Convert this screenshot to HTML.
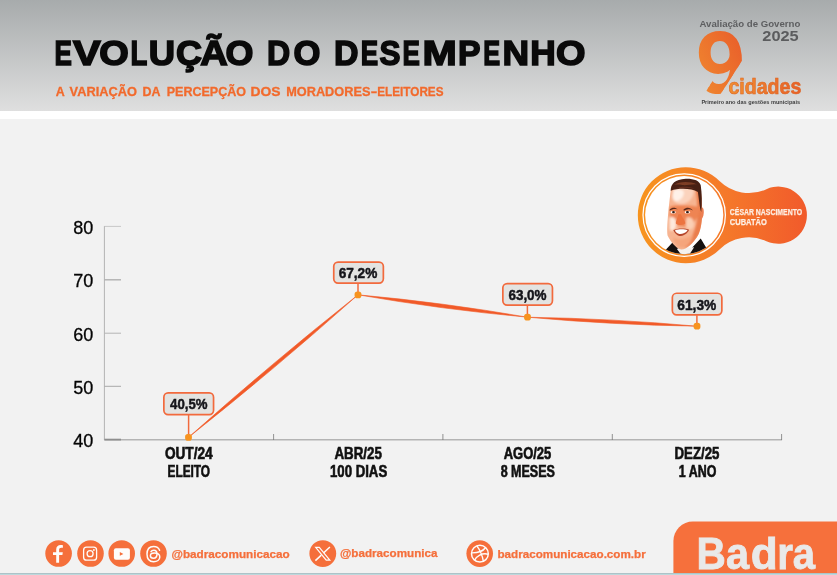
<!DOCTYPE html>
<html lang="pt-BR">
<head>
<meta charset="utf-8">
<title>Evolução do Desempenho</title>
<style>
html,body{margin:0;padding:0;background:#f2f2f2;}
body{width:837px;height:575px;overflow:hidden;font-family:"Liberation Sans",sans-serif;}
svg{display:block;}
text{font-family:"Liberation Sans",sans-serif;}
.b{font-weight:bold;}
</style>
</head>
<body>
<svg width="837" height="575" viewBox="0 0 837 575">
<defs>
<linearGradient id="hdr" x1="0" y1="0" x2="0" y2="1">
<stop offset="0" stop-color="#a7abac"/><stop offset="1" stop-color="#dfdfdf"/>
</linearGradient>
<linearGradient id="og" x1="0" y1="1" x2="1" y2="0">
<stop offset="0" stop-color="#f18f30"/><stop offset="1" stop-color="#e8572a"/>
</linearGradient>
<linearGradient id="og2" x1="0" y1="0" x2="1" y2="0">
<stop offset="0" stop-color="#f18f30"/><stop offset="1" stop-color="#e8602a"/>
</linearGradient>
<linearGradient id="badge" x1="0" y1="0" x2="1" y2="0">
<stop offset="0" stop-color="#f7941e"/><stop offset="0.5" stop-color="#f57a2a"/><stop offset="1" stop-color="#f15a2b"/>
</linearGradient>
</defs>

<!-- background -->
<rect x="0" y="0" width="837" height="575" fill="#f2f2f2"/>
<rect x="0" y="0" width="837" height="111" fill="url(#hdr)"/>
<rect x="0" y="111" width="837" height="8" fill="#ffffff"/>

<!-- header text -->
<g class="b" font-size="35.7" fill="#0a0a0a" stroke="#0a0a0a" stroke-width="1.6">
<text y="64.8"><tspan x="54.4" textLength="17.4" lengthAdjust="spacingAndGlyphs">E</tspan><tspan x="73.0" textLength="27.7" lengthAdjust="spacingAndGlyphs">V</tspan><tspan x="99.3" textLength="29.5" lengthAdjust="spacingAndGlyphs">O</tspan><tspan x="130.4" textLength="16.8" lengthAdjust="spacingAndGlyphs">L</tspan><tspan x="148.8" textLength="26.3" lengthAdjust="spacingAndGlyphs">U</tspan><tspan x="175.9" textLength="26.0" lengthAdjust="spacingAndGlyphs">Ç</tspan><tspan x="200.3" textLength="27.5" lengthAdjust="spacingAndGlyphs">Ã</tspan><tspan x="225.6" textLength="27.9" lengthAdjust="spacingAndGlyphs">O</tspan></text>
<text y="64.8"><tspan x="267.0" textLength="23.2" lengthAdjust="spacingAndGlyphs">D</tspan><tspan x="293.5" textLength="26.9" lengthAdjust="spacingAndGlyphs">O</tspan></text>
<text y="64.8"><tspan x="333.9" textLength="24.5" lengthAdjust="spacingAndGlyphs">D</tspan><tspan x="360.7" textLength="17.4" lengthAdjust="spacingAndGlyphs">E</tspan><tspan x="379.5" textLength="21.0" lengthAdjust="spacingAndGlyphs">S</tspan><tspan x="402.5" textLength="17.4" lengthAdjust="spacingAndGlyphs">E</tspan><tspan x="422.4" textLength="34.3" lengthAdjust="spacingAndGlyphs">M</tspan><tspan x="458.1" textLength="22.5" lengthAdjust="spacingAndGlyphs">P</tspan><tspan x="483.2" textLength="16.9" lengthAdjust="spacingAndGlyphs">E</tspan><tspan x="502.6" textLength="26.6" lengthAdjust="spacingAndGlyphs">N</tspan><tspan x="530.3" textLength="25.5" lengthAdjust="spacingAndGlyphs">H</tspan><tspan x="556.1" textLength="29.5" lengthAdjust="spacingAndGlyphs">O</tspan></text>
</g>
<g class="b" font-size="12.6" fill="#f26a2c" stroke="#f26a2c" stroke-width="0.3">
<text y="95.5"><tspan x="55.8" textLength="9.0" lengthAdjust="spacingAndGlyphs">A</tspan></text>
<text y="95.5"><tspan x="69.6" textLength="67.4" lengthAdjust="spacingAndGlyphs">VARIAÇÃO</tspan></text>
<text y="95.5"><tspan x="142.6" textLength="18.0" lengthAdjust="spacingAndGlyphs">DA</tspan></text>
<text y="95.5"><tspan x="166.7" textLength="79.4" lengthAdjust="spacingAndGlyphs">PERCEPÇÃO</tspan></text>
<text y="95.5"><tspan x="250.5" textLength="30.0" lengthAdjust="spacingAndGlyphs">DOS</tspan></text>
<text y="95.5"><tspan x="286.2" textLength="84.2" lengthAdjust="spacingAndGlyphs">MORADORES</tspan><tspan x="370.8" textLength="6.5" lengthAdjust="spacingAndGlyphs">-</tspan><tspan x="377.3" textLength="66.2" lengthAdjust="spacingAndGlyphs">ELEITORES</tspan></text>
</g>

<!-- logo -->
<g id="logo">
<text class="b" x="699.5" y="26.5" font-size="9.9" fill="#5d5e60" textLength="100.8" lengthAdjust="spacingAndGlyphs">Avaliação de Governo</text>
<text class="b" x="762.3" y="41.4" font-size="14.6" fill="#5b5c5e" textLength="36.4" lengthAdjust="spacingAndGlyphs">2025</text>
<clipPath id="c9"><path d="M690 20 H750 V52 L742.8 59.5 L720.6 94 H704.4 L716.4 75 H690Z"/></clipPath>
<text clip-path="url(#c9)" x="697" y="91.2" font-size="83.4" fill="url(#og)" stroke="url(#og)" stroke-width="4.2" stroke-linejoin="round" textLength="46.8" lengthAdjust="spacingAndGlyphs">9</text>
<text class="b" x="728.5" y="94" font-size="22.2" fill="url(#og2)" stroke="#dd6420" stroke-width="0.6" textLength="72.8" lengthAdjust="spacingAndGlyphs">cidades</text>
<text class="b" x="701.4" y="104.1" font-size="5.5" fill="#404041" textLength="98.7" lengthAdjust="spacingAndGlyphs">Primeiro ano das gestões municipais</text>
</g>

<!-- chart axes -->
<g id="axes" fill="none">
<line x1="104.4" y1="226.1" x2="104.4" y2="440" stroke="#b3b3b3" stroke-width="1"/>
<line x1="104.4" y1="439.8" x2="782" y2="439.8" stroke="#b4b4b4" stroke-width="1.5"/>
<line x1="104.4" y1="226.4" x2="121" y2="226.4" stroke="#bdbdbd" stroke-width="0.8"/>
<line x1="104.4" y1="279.8" x2="121" y2="279.8" stroke="#b0b0b0" stroke-width="1.4"/>
<line x1="104.4" y1="333.2" x2="121" y2="333.2" stroke="#b4b4b4" stroke-width="1"/>
<line x1="104.4" y1="386.3" x2="121" y2="386.3" stroke="#a8a8a8" stroke-width="1"/>
<line x1="104.4" y1="439.6" x2="121" y2="439.6" stroke="#8e8e8e" stroke-width="1.8"/>
<line x1="273.6" y1="434" x2="273.6" y2="440" stroke="#777" stroke-width="0.8"/>
<line x1="442.9" y1="434" x2="442.9" y2="440" stroke="#777" stroke-width="0.8"/>
<line x1="612.3" y1="434" x2="612.3" y2="440" stroke="#777" stroke-width="0.8"/>
<line x1="781.6" y1="434" x2="781.6" y2="440" stroke="#777" stroke-width="0.8"/>
</g>
<g id="ylabels" font-size="18" fill="#050505" stroke="#050505" stroke-width="0.3">
<text x="73.3" y="234.1">80</text>
<text x="73.3" y="287.3">70</text>
<text x="73.3" y="340.6">60</text>
<text x="73.3" y="393.8">50</text>
<text x="73.3" y="447.1">40</text>
</g>

<!-- series -->
<g id="series" fill="#f15a29" stroke="#f15a29" stroke-width="0.6" stroke-linejoin="round">
<path d="M188.6 437.3 Q275.4 368.6 358 294.8 Q271.2 363.5 188.6 437.3Z"/>
<path d="M358 294.8 Q442.3 309.5 527.5 317.2 Q443.2 302.5 358 294.8Z"/>
<path d="M527.5 317.2 Q612.1 324.9 697 326.2 Q612.4 318.5 527.5 317.2Z"/>
</g>
<g id="stems" stroke="#f26a3d" stroke-width="1.5">
<line x1="188.6" y1="415" x2="188.6" y2="435"/>
<line x1="358" y1="283.5" x2="358" y2="293"/>
<line x1="527.4" y1="305.5" x2="527.4" y2="315"/>
<line x1="696.9" y1="315.3" x2="696.9" y2="324"/>
</g>
<g id="dots" fill="#f7931f">
<rect x="185.1" y="433.9" width="6.8" height="6.8" rx="2.8"/>
<rect x="354.6" y="291.4" width="6.8" height="6.8" rx="2.8"/>
<rect x="524.1" y="313.8" width="6.8" height="6.8" rx="2.8"/>
<rect x="693.6" y="322.8" width="6.8" height="6.8" rx="2.8"/>
</g>
<g id="boxes" fill="#e3e3e1" stroke="#f26a3d" stroke-width="1.7">
<rect x="163.85" y="392.85" width="49.7" height="21.7" rx="4.3"/>
<rect x="333.75" y="262.05" width="49.6" height="21.1" rx="4.3"/>
<rect x="502.85" y="283.55" width="49.6" height="21.5" rx="4.3"/>
<rect x="672.35" y="293.25" width="49.5" height="21.6" rx="4.3"/>
</g>
<g id="vals" class="b" font-size="15.4" fill="#15151a" stroke="#15151a" stroke-width="0.5" text-anchor="middle">
<text x="188.8" y="409.1" textLength="37.4" lengthAdjust="spacingAndGlyphs">40,5%</text>
<text x="358" y="278" textLength="38.6" lengthAdjust="spacingAndGlyphs">67,2%</text>
<text x="527.5" y="299.9" textLength="38.2" lengthAdjust="spacingAndGlyphs">63,0%</text>
<text x="696.8" y="310" textLength="39" lengthAdjust="spacingAndGlyphs">61,3%</text>
</g>
<g id="xlabels" class="b" font-size="15.7" fill="#111" stroke="#111" stroke-width="0.6" text-anchor="middle">
<text x="188.8" y="458.8" textLength="47.8" lengthAdjust="spacingAndGlyphs">OUT/24</text>
<text x="188.8" y="476.6" textLength="42.6" lengthAdjust="spacingAndGlyphs">ELEITO</text>
<text x="358.2" y="458.8" textLength="47.5" lengthAdjust="spacingAndGlyphs">ABR/25</text>
<text x="358.6" y="476.6" textLength="57.2" lengthAdjust="spacingAndGlyphs">100 DIAS</text>
<text x="527.5" y="458.8" textLength="47.6" lengthAdjust="spacingAndGlyphs">AGO/25</text>
<text x="527.8" y="476.6" textLength="54.3" lengthAdjust="spacingAndGlyphs">8 MESES</text>
<text x="697" y="458.8" textLength="44.9" lengthAdjust="spacingAndGlyphs">DEZ/25</text>
<text x="697.6" y="476.6" textLength="37.5" lengthAdjust="spacingAndGlyphs">1 ANO</text>
</g>

<!-- badge -->
<g id="badge">
<path d="M719.5 181 A48 48 0 1 0 719.5 249.4 A42 42 0 0 1 766.4 241.2 A28.6 28.6 0 1 0 766.4 189.2 A42 42 0 0 1 719.5 181Z" fill="url(#badge)"/>
<circle cx="684.2" cy="215.1" r="41.2" fill="none" stroke="#fff" stroke-width="1.25"/>
<circle cx="684.2" cy="215.1" r="39.1" fill="#fff"/>
<clipPath id="pc"><circle cx="684.2" cy="215.1" r="39.1"/></clipPath>
<g clip-path="url(#pc)">
<g id="portrait" transform="translate(640 170) scale(0.1565)">
<filter id="bl" x="-20%" y="-20%" width="140%" height="140%"><feGaussianBlur stdDeviation="7"/></filter>
<!-- suit -->
<path d="M150 525 L218 452 L262 508 L322 508 L388 438 L428 505 L405 570 L160 570Z" fill="#17110f"/>
<path d="M236 505 L258 492 L322 496 L346 494 L312 545 L262 540Z" fill="#f4f1ee"/>
<!-- head -->
<path d="M201 100 C192 160 184 230 178 300 C174 350 172 395 176 418 C195 455 228 500 262 508 C300 510 345 462 372 415 C392 375 400 300 397 250 C394 180 390 130 382 95 C320 68 250 70 201 100Z" fill="#f7b491"/>
<clipPath id="hc"><path d="M201 100 C192 160 184 230 178 300 C174 350 172 395 176 418 C195 455 228 500 262 508 C300 510 345 462 372 415 C392 375 400 300 397 250 C394 180 390 130 382 95 C320 68 250 70 201 100Z"/></clipPath>
<g clip-path="url(#hc)">
<g filter="url(#bl)">
<!-- right side shading -->
<path d="M352 110 C365 160 368 230 366 300 C362 370 330 440 285 497 C315 495 358 452 386 402 C402 368 405 300 402 250 C399 180 395 130 388 100Z" fill="#ea7d4c"/>
<!-- mid face orange band -->
<path d="M190 235 C240 222 320 222 385 240 C380 300 340 350 300 360 C260 365 215 350 190 320Z" fill="#ee8452"/>
<!-- forehead highlight -->
<path d="M212 118 C250 100 305 104 345 125 C345 170 320 212 270 218 C230 220 203 198 203 168Z" fill="#fbd3bd"/>
<path d="M215 130 C240 118 270 120 280 140 C280 175 255 200 225 198 C208 190 206 160 215 130Z" fill="#fff1e8"/>
<!-- cheek highlights -->
<path d="M188 305 C212 292 236 312 232 352 C228 384 205 398 190 382Z" fill="#fee9dc"/>
<path d="M296 305 C330 292 352 322 342 362 C326 392 300 382 292 352Z" fill="#fbcfb4"/>
<!-- lower jaw -->
<path d="M210 430 C240 450 300 445 340 410 C330 470 290 500 262 496 C238 490 218 462 210 430Z" fill="#f5a57c"/>
</g>
</g>
<!-- ear -->
<path d="M388 240 C405 230 412 260 405 290 C400 310 392 318 386 312Z" fill="#ec7f52"/>
<!-- hair -->
<path d="M196 132 C198 88 222 60 292 56 C346 55 380 68 388 98 C396 150 397 215 391 268 C381 240 377 190 370 140 C330 116 250 112 196 132Z" fill="#482014"/>
<path d="M216 96 C250 72 320 70 364 92 C330 88 300 100 270 96 C250 92 232 92 216 96Z" fill="#7d3d24"/>
<path d="M230 118 C260 104 310 104 350 120 C310 112 270 112 230 118Z" fill="#6a3020"/>
<!-- brows/eyes -->
<path d="M190 252 C205 236 228 238 240 252 C225 247 205 249 190 260Z" fill="#5a2a1a"/>
<path d="M278 252 C298 236 322 238 338 258 C318 247 298 249 280 260Z" fill="#5a2a1a"/>
<ellipse cx="212" cy="270" rx="17" ry="8" fill="#fff"/>
<ellipse cx="303" cy="270" rx="18" ry="8" fill="#fff"/>
<ellipse cx="214" cy="269" rx="9" ry="7.5" fill="#2e1a14"/>
<ellipse cx="303" cy="269" rx="9.5" ry="7.5" fill="#2e1a14"/>
<!-- nose -->
<path d="M245 282 C240 310 226 330 230 343 C245 354 277 354 290 341 C287 320 268 300 262 282Z" fill="#ec7440"/>
<!-- mouth -->
<path d="M213 384 C240 370 290 370 314 381 C302 411 268 424 250 422 C232 417 219 400 213 384Z" fill="#b5472c"/>
<path d="M223 386 C245 377 285 377 304 385 C293 403 268 411 252 409 C238 405 228 396 223 386Z" fill="#ffffff"/>
</g>
</g>
<text class="b" x="729.8" y="214.8" font-size="8.6" fill="#fdeee2" stroke="#fdeee2" stroke-width="0.25" textLength="72.3" lengthAdjust="spacingAndGlyphs">CÉSAR NASCIMENTO</text>
<text class="b" x="729.8" y="225.3" font-size="8.6" fill="#fdeee2" stroke="#fdeee2" stroke-width="0.25" textLength="37" lengthAdjust="spacingAndGlyphs">CUBATÃO</text>
</g>

<!-- footer -->
<g id="footer">
<rect x="0" y="573" width="837" height="1" fill="#adc3c8"/><rect x="0" y="574" width="837" height="1" fill="#bdd8dc"/>
<path d="M673.4 573 V541 A19.5 19.5 0 0 1 692.9 521.5 H837 V573Z" fill="#f6703c"/>
<text class="b" y="569.1" font-size="44.3" fill="#e9e9e9" stroke="#e9e9e9" stroke-width="0.8"><tspan x="696.4" textLength="29.3" lengthAdjust="spacingAndGlyphs">B</tspan><tspan x="726.0" textLength="23.1" lengthAdjust="spacingAndGlyphs">a</tspan><tspan x="750.8" textLength="27.0" lengthAdjust="spacingAndGlyphs">d</tspan><tspan x="777.3" textLength="15.7" lengthAdjust="spacingAndGlyphs">r</tspan><tspan x="792.7" textLength="22.3" lengthAdjust="spacingAndGlyphs">a</tspan></text>
<g fill="#f56f3b">
<circle cx="58.6" cy="553.5" r="13.3"/>
<circle cx="90.5" cy="553.5" r="13.3"/>
<circle cx="121.7" cy="553.5" r="13.3"/>
<circle cx="153.5" cy="553.5" r="13.3"/>
<circle cx="322.8" cy="553.6" r="13.4"/>
<circle cx="479.7" cy="553.6" r="13.3"/>
</g>
<g id="icons" fill="#fefcfb" stroke="none">
<!-- facebook -->
<path d="M56.2 562.8 V554.9 H53 V552.2 H56.2 V549.6 C56.2 546.6 58 545.1 60.6 545.1 C61.6 545.1 62.5 545.2 62.9 545.3 V547.7 H61.4 C59.8 547.7 59.1 548.4 59.1 549.8 V552.2 H62.8 L62.4 554.9 H59.1 V562.8Z"/>
<!-- instagram -->
<rect x="83.6" y="547.2" width="13" height="13" rx="3" fill="none" stroke="#fefcfb" stroke-width="1.3"/>
<circle cx="90.1" cy="553.7" r="3" fill="none" stroke="#fefcfb" stroke-width="1.3"/>
<circle cx="93.9" cy="550" r="0.9"/>
<!-- youtube -->
<rect x="113.9" y="548.2" width="16" height="11.5" rx="2"/>
<path d="M119.8 552.1 L123.4 553.9 L119.8 555.8Z" fill="#f56f3b"/>
<!-- threads -->
<path d="M159.6 550.2 C158.6 547.6 156.4 546.4 153.6 546.4 C149.6 546.4 147 549.3 147 554.1 C147 558.9 149.6 561.8 153.6 561.8 C157 561.8 159.8 559.9 159.8 557.1 C159.8 554.5 157.6 553.1 154.2 553.1 C151.8 553.1 150.4 554.2 150.4 555.7 C150.4 557.2 151.7 558.2 153.5 558.2 C155.8 558.2 157 556.6 157 554 C157 551.6 155.9 550.2 153.8 550.2 C152.5 550.2 151.5 550.8 151 551.7" fill="none" stroke="#fefcfb" stroke-width="1.5" stroke-linecap="round"/>
<!-- x -->
<path d="M315.7 547.4 H319.3 L329.8 560.1 H326.2Z" fill="none" stroke="#fefcfb" stroke-width="1.2"/>
<path d="M329.9 547 L323.5 553 M321.3 555.1 L315.4 560.6" fill="none" stroke="#fefcfb" stroke-width="1.5"/>
<!-- dribbble -->
<circle cx="479.9" cy="553.7" r="8.4" fill="none" stroke="#fefcfb" stroke-width="1.5"/>
<path d="M476.8 545.9 C479.8 549.6 482.2 555 483.4 561.4 M471.5 552.9 C476.5 553 482.6 551.9 485.6 547.5 M474.6 560.2 C476.5 556 481.8 552.6 488.3 554.2" fill="none" stroke="#fefcfb" stroke-width="1.4"/>
</g>
<g class="b" font-size="10.8" fill="#f56f3b" stroke="#f56f3b" stroke-width="0.25">
<text x="171.5" y="557.9" textLength="118.2" lengthAdjust="spacingAndGlyphs">@badracomunicacao</text>
<text x="340" y="556.8" textLength="97.5" lengthAdjust="spacingAndGlyphs">@badracomunica</text>
<text x="497.5" y="557.7" textLength="148.2" lengthAdjust="spacingAndGlyphs">badracomunicacao.com.br</text>
</g>
</g>
</svg>
</body>
</html>
